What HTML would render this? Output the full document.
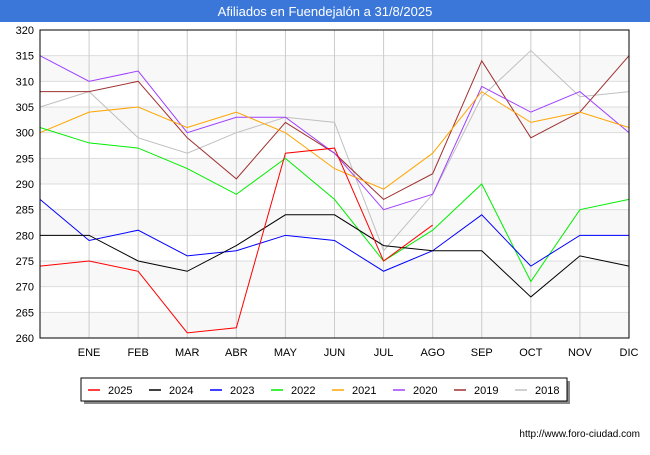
<!DOCTYPE html>
<html><head><meta charset="utf-8"><style>
body{margin:0;width:650px;height:450px;background:#fff;font-family:"Liberation Sans",sans-serif;overflow:hidden}
</style></head><body>
<svg width="650" height="450" xmlns="http://www.w3.org/2000/svg">
<rect x="0" y="0" width="650" height="22" fill="#3a77d9"/>
<text x="325" y="16" text-anchor="middle" fill="#fff" font-size="13">Afiliados en Fuendejalón a 31/8/2025</text>
<g id="grid"></g><g id="series"></g><g id="axes"></g>
<rect x="84" y="381" width="486" height="23" fill="#888"/>
<rect x="81" y="378" width="486" height="23" fill="#fff" stroke="#000"/>
<g id="legend"></g>
<text x="640" y="437" text-anchor="end" font-size="10" fill="#000">http://www.foro-ciudad.com</text>
</svg>
<script>
const months=["","ENE","FEB","MAR","ABR","MAY","JUN","JUL","AGO","SEP","OCT","NOV","DIC"];
const yTicks=[260,265,270,275,280,285,290,295,300,305,310,315,320];
const seriesNames=["2025","2024","2023","2022","2021","2020","2019","2018"];
const seriesColors=["#ff0000","#000000","#0000ff","#00ee00","#ffa500","#a040ff","#a03030","#c0c0c0"];
const s2025=[274,275,273,261,262,296,297,275,282];
const s2024=[280,280,275,273,278,284,284,278,277,277,268,276,274];
const s2023=[287,279,281,276,277,280,279,273,277,284,274,280,280];
const s2022=[301,298,297,293,288,295,287,275,281,290,271,285,287];
const s2021=[300,304,305,301,304,300,293,289,296,308,302,304,301];
const s2020=[315,310,312,300,303,303,296,285,288,309,304,308,300];
const s2019=[308,308,310,299,291,302,296,287,292,314,299,304,315];
const s2018=[305,308,299,296,300,303,302,277,288,307,316,307,308];
const allSeries=[s2025,s2024,s2023,s2022,s2021,s2020,s2019,s2018];
const NS="http://www.w3.org/2000/svg";
const X0=40,X1=629,Y0=338,Y1=30;
const xs=i=>X0+(X1-X0)*i/12;
const ys=v=>Y0-(v-260)*(Y0-Y1)/60;
function mk(t,a,p){const e=document.createElementNS(NS,t);for(const k in a)e.setAttribute(k,a[k]);p.appendChild(e);return e;}
const grid=document.getElementById('grid'),axes=document.getElementById('axes'),ser=document.getElementById('series'),leg=document.getElementById('legend');
for(let i=0;i<yTicks.length-1;i++){if(i%2==0){const r=mk('rect',{x:X0,y:ys(yTicks[i+1]),width:X1-X0,height:ys(yTicks[i])-ys(yTicks[i+1]),fill:'#f8f8f8'},grid);}}
yTicks.forEach(v=>{const l=mk('line',{x1:X0,x2:X1,y1:ys(v),y2:ys(v),stroke:'#ddd'},grid);
const t=mk('text',{x:X0-6,y:ys(v)+4,'text-anchor':'end','font-size':'11',fill:'#000'},axes);t.textContent=v;});
months.forEach((m,i)=>{if(i>0){const l=mk('line',{x1:xs(i),x2:xs(i),y1:Y1,y2:Y0,stroke:'#ccc'},grid);}
const t=mk('text',{x:xs(i),y:356,'text-anchor':'middle','font-size':'11',fill:'#000'},axes);t.textContent=m;});
const fr=mk('rect',{x:X0,y:Y1,width:X1-X0,height:Y0-Y1,fill:'none',stroke:'#000'},axes);
for(let k=allSeries.length-1;k>=0;k--){const d=allSeries[k];const p=mk('polyline',{points:d.map((v,i)=>xs(i)+','+ys(v)).join(' '),fill:'none',stroke:seriesColors[k],'stroke-width':'1'},ser);}
seriesNames.forEach((n,k)=>{const x=88+k*61;const l=mk('line',{x1:x,x2:x+12,y1:390,y2:390,stroke:seriesColors[k],'stroke-width':'1.5'},leg);
const t=mk('text',{x:x+20,y:394,'font-size':'11',fill:'#000'},leg);t.textContent=n;});
</script>
</body></html>
